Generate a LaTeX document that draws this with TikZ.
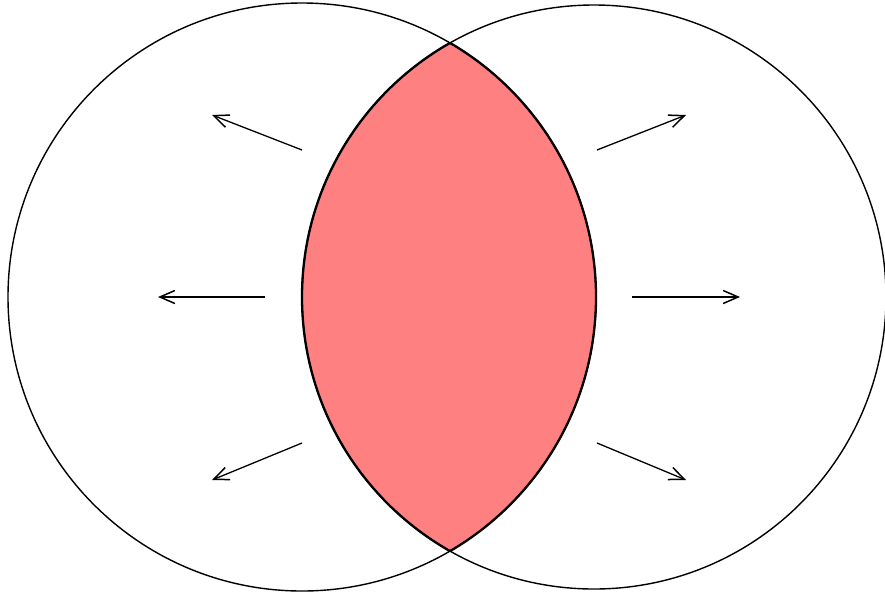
\documentclass[tikz,border=0pt]{standalone}
\usetikzlibrary{arrows.meta}
\definecolor{lensred}{RGB}{255,128,128}
\begin{document}
\begin{tikzpicture}[x=1pt,y=-1pt,
  circ/.style={line width=1.4pt},
  lensedge/.style={line width=2.3pt},
  push/.style={line width=1.3pt,-{Straight Barb[length=15pt,width=13pt,line width=1.5pt]}}]
\useasboundingbox (0,0) rectangle (885,595);
\coordinate (cA) at (302,297);
\coordinate (cB) at (594,297);
% lens fill
\begin{scope}
  \clip (cA) circle[radius=294];
  \fill[lensred] (cB) circle[radius=292];
\end{scope}
% circles
\draw[circ] (cA) circle[radius=294];
\draw[circ] (cB) circle[radius=292];
% thicker lens border
\begin{scope}
  \clip (cA) circle[radius=294];
  \draw[lensedge] (cB) circle[radius=292];
\end{scope}
\begin{scope}
  \clip (cB) circle[radius=292];
  \draw[lensedge] (cA) circle[radius=294];
\end{scope}
% arrows
\coordinate (l1s) at (302,150); \coordinate (l1e) at (212,115);
\coordinate (l2s) at (265,297); \coordinate (l2e) at (158,297);
\coordinate (l3s) at (302,443); \coordinate (l3e) at (212,480);
\coordinate (r1s) at (597,150); \coordinate (r1e) at (686,115);
\coordinate (r2s) at (632,297); \coordinate (r2e) at (740,297);
\coordinate (r3s) at (597,443); \coordinate (r3e) at (686,480);
\draw[push] (l1s) -- (l1e);
\draw[push] (l2s) -- (l2e);
\draw[push] (l3s) -- (l3e);
\draw[push] (r1s) -- (r1e);
\draw[push] (r2s) -- (r2e);
\draw[push] (r3s) -- (r3e);
\end{tikzpicture}
\end{document}
